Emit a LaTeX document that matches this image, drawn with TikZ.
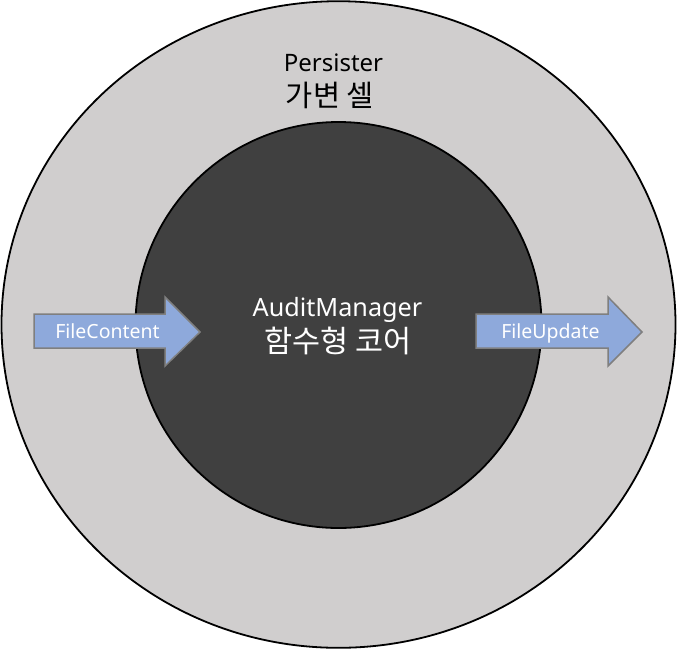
\documentclass[tikz,border=0pt]{standalone}
\usepackage{fontspec}
\setmainfont{Noto Sans}
\newfontfamily\kr{Noto Sans CJK KR}
\definecolor{outerfill}{HTML}{D0CECE}
\definecolor{innerfill}{HTML}{404040}
\definecolor{arrowfill}{HTML}{8EA9DB}
\definecolor{arrowline}{HTML}{7F7F7F}
\tikzset{
  blockarrow/.style={fill=arrowfill, draw=arrowline, line width=1.5pt, line join=miter},
  lbl/.style={inner sep=0pt, anchor=base},
  arrowlbl/.style={inner sep=0pt, anchor=base, text=white, font=\fontsize{19.5}{22}\selectfont},
}
\begin{document}
\begin{tikzpicture}[x=1pt,y=-1pt]
\useasboundingbox (0,0) rectangle (677,649);
\draw[fill=outerfill, line width=1.8pt] (338.5,324.5) ellipse [x radius=337, y radius=323.3];
\draw[fill=innerfill, line width=1.8pt] (338.5,325) circle [radius=203];
% left arrow
\draw[blockarrow] (34,314) -- (165,314) -- (165,297) -- (200,332) -- (165,366) -- (165,348) -- (34,348) -- cycle;
% right arrow
\draw[blockarrow] (476,314) -- (608,314) -- (608,297) -- (642,332) -- (608,366) -- (608,348) -- (476,348) -- cycle;
\node[arrowlbl] (fc) at (107.5,338) {FileContent};
\node[arrowlbl] (fu) at (550.5,338) {FileUpdate};
\node[lbl, font=\fontsize{24}{26}\selectfont] (pers) at (333.5,71) {Persister};
\node[lbl, font=\fontsize{29.5}{32}\selectfont\kr] (cell) at (330,106) {가변 셀};
\node[lbl, font=\fontsize{25.2}{28}\selectfont, text=white] (am) at (337.5,316) {AuditManager};
\node[lbl, font=\fontsize{30.5}{33}\selectfont\kr, text=white] (core) at (338,352) {함수형 코어};
\end{tikzpicture}
\end{document}
